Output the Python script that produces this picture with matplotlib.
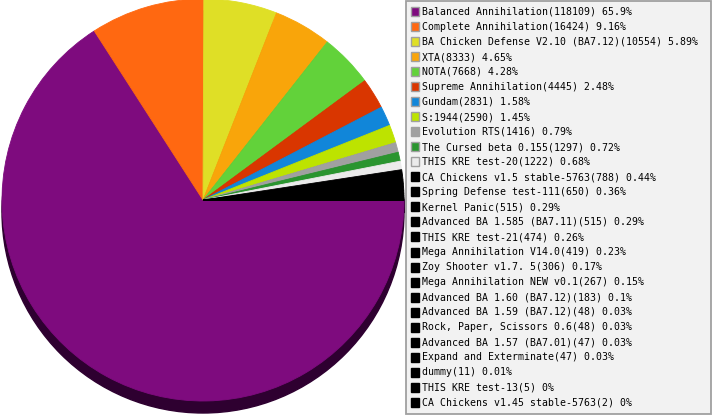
import matplotlib.pyplot as plt
from matplotlib.patches import Circle, Rectangle

# games and how many times each was played
names = ['Balanced Annihilation', 'Complete Annihilation',
         'BA Chicken Defense V2.10 (BA7.12)', 'XTA', 'NOTA',
         'Supreme Annihilation', 'Gundam', 'S:1944', 'Evolution RTS',
         'The Cursed beta 0.155', 'THIS KRE test-20',
         'CA Chickens v1.5 stable-5763', 'Spring Defense test-111',
         'Kernel Panic', 'Advanced BA 1.585 (BA7.11)', 'THIS KRE test-21',
         'Mega Annihilation V14.0', 'Zoy Shooter v1.7. 5',
         'Mega Annihilation NEW v0.1', 'Advanced BA 1.60 (BA7.12)',
         'Advanced BA 1.59 (BA7.12)', 'Rock, Paper, Scissors 0.6',
         'Advanced BA 1.57 (BA7.01)', 'Expand and Exterminate', 'dummy',
         'THIS KRE test-13', 'CA Chickens v1.45 stable-5763']
counts = [118109, 16424, 10554, 8333, 7668, 4445, 2831, 2590, 1416, 1297,
          1222, 788, 650, 515, 515, 474, 419, 306, 267, 183, 48, 48, 47,
          47, 11, 5, 2]
percents = ['65.9%', '9.16%', '5.89%', '4.65%', '4.28%', '2.48%', '1.58%',
            '1.45%', '0.79%', '0.72%', '0.68%', '0.44%', '0.36%', '0.29%',
            '0.29%', '0.26%', '0.23%', '0.17%', '0.15%', '0.1%', '0.03%',
            '0.03%', '0.03%', '0.03%', '0.01%', '0%', '0%']
colors = ['#7e0b7e', '#ff6811', '#dfdf26', '#f9a50a', '#62d23a', '#d93600',
          '#1186d9', '#bde300', '#a0a0a0', '#2a952f', '#ebebeb'] + ['#000000'] * 16

W, H = 713, 415
fig = plt.figure(figsize=(W / 100, H / 100), dpi=100)
ax = fig.add_axes([0, 0, 1, 1])

cx, cy, r, depth = 203, 215, 201, 12
shade = '#2e0030'
ax.add_patch(Circle((cx, cy - depth), r, color=shade, zorder=1))
ax.add_patch(Rectangle((cx - r, cy - depth), 2 * r, depth, color=shade, zorder=1))

wedges, _ = ax.pie(counts, colors=colors, startangle=0, counterclock=False,
                   center=(cx, cy), radius=r, frame=True,
                   wedgeprops=dict(linewidth=0.6))
for w, col in zip(wedges, colors):
    w.set_edgecolor(col)
    w.set_zorder(2)
ax.set_xlim(0, W)
ax.set_ylim(0, H)
ax.set_aspect('auto')
ax.axis('off')

# legend box
ax.add_patch(Rectangle((405.5, H - 413.5), 305, 412.5, facecolor='#f2f2f2',
                       edgecolor='#a0a0a0', linewidth=1.3, zorder=3))
for i, (n, c, p, col) in enumerate(zip(names, counts, percents, colors)):
    y = H - (12 + 15 * i)
    edge = '#a0a0a0' if col != '#000000' else '#000000'
    ax.add_patch(Rectangle((411, y - 4.5), 8, 9, facecolor=col, edgecolor=edge,
                           linewidth=1, zorder=4))
    ax.text(422, y, f'{n}({c}) {p}', fontsize=7.15, family='DejaVu Sans Mono',
            va='center', ha='left', color='#000000', zorder=5)

fig.savefig('out.png', dpi=100)
